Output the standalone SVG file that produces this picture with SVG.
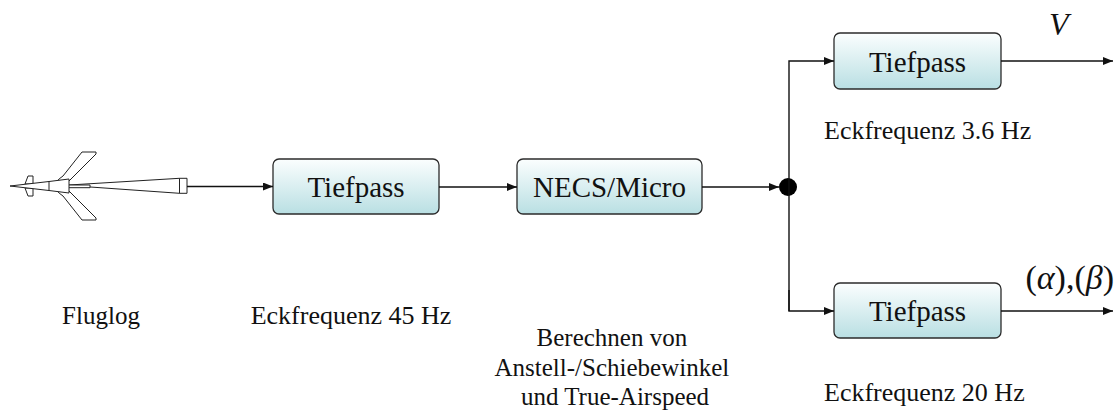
<svg xmlns="http://www.w3.org/2000/svg" width="1116" height="413" viewBox="0 0 1116 413">
  <style>
    .box { fill: url(#boxFill); stroke: #2b2b2b; stroke-width: 1.3; }
    .lbl { font-family: 'Liberation Serif', 'Times New Roman', Times, 'DejaVu Serif', serif; fill: #111; }
    .boxText { font-size: 29px; text-anchor: middle; }
    .note { font-size: 26px; }
    .wire { fill: none; stroke: #111; stroke-width: 1.4; }
    .craft { fill: #fff; stroke: #222; stroke-width: 1; stroke-linejoin: round; }
  </style>
  <defs>
    <linearGradient id="boxFill" x1="0" y1="0" x2="0" y2="1">
      <stop offset="0" stop-color="#fbfefe"/>
      <stop offset="1" stop-color="#b9dfe3"/>
    </linearGradient>
    <marker id="arrow" viewBox="0 0 10 8" refX="10" refY="4" markerWidth="10" markerHeight="8" markerUnits="userSpaceOnUse" orient="auto">
      <path d="M0,0 L10,4 L0,8 Z" fill="#111"/>
    </marker>
  </defs>

  <!-- flight log: missile outline -->
  <g id="fluglog">
    <!-- tail cone and probe rod -->
    <path class="craft" d="M69,185 L179.5,178.3 L179.5,193.3 L69,185.5 Z"/>
    <rect class="craft" x="179.5" y="178.3" width="7.5" height="15"/>
    <path class="craft" d="M69,185 H90 V187.7 H69"/>
    <!-- main wings -->
    <path class="craft" d="M57,181 Q60,178 63,176 L82,152 L96,152 L96,154 L69,181 Z"/>
    <path class="craft" d="M57,191 Q60,194 63,196 L82,220 L96,220 L96,218 L69,191 Z"/>
    <!-- canards -->
    <path class="craft" d="M25,184 L28,176 L33,176 L33,184 Z"/>
    <path class="craft" d="M25,188 L28,196 L33,196 L33,188 Z"/>
    <!-- nose and fuselage -->
    <path class="craft" d="M10,186 L49,181.5 L69,179 L69,193 L49,190.5 Z"/>
    <path class="craft" d="M49,181.5 V190.5"/>
    <text class="lbl" x="101" y="324" text-anchor="middle" font-size="25">Fluglog</text>
  </g>

  <g id="tiefpass1">
    <rect class="box" x="273" y="159" width="166" height="55" rx="6"/>
    <text class="lbl boxText" x="356" y="197">Tiefpass</text>
    <text class="lbl note" x="351" y="324" text-anchor="middle">Eckfrequenz 45 Hz</text>
  </g>

  <g id="necs">
    <rect class="box" x="517" y="159" width="185" height="55" rx="6"/>
    <text class="lbl boxText" x="609.5" y="197">NECS/Micro</text>
    <text class="lbl" text-anchor="middle" font-size="25">
      <tspan x="615" y="346">Berechnen von</tspan>
      <tspan x="615" y="376">Anstell-/Schiebewinkel</tspan>
      <tspan x="615" y="405">und True-Airspeed</tspan>
    </text>
  </g>

  <g id="tiefpass2">
    <rect class="box" x="834" y="33" width="167" height="56" rx="6"/>
    <text class="lbl boxText" x="917.5" y="72">Tiefpass</text>
    <text class="lbl note" x="824" y="139">Eckfrequenz 3.6 Hz</text>
  </g>

  <g id="tiefpass3">
    <rect class="box" x="834" y="283" width="167" height="55" rx="6"/>
    <text class="lbl boxText" x="917.5" y="321">Tiefpass</text>
    <text class="lbl note" x="824" y="401">Eckfrequenz 20 Hz</text>
  </g>

  <g id="branch">
    <circle cx="788" cy="187" r="9" fill="#000"/>
  </g>

  <!-- output symbols -->
  <g id="outputs" class="lbl">
    <text x="1049" y="35" font-size="32" font-style="italic">V</text>
    <text x="1114" y="289" font-size="34" text-anchor="end">(<tspan font-style="italic">α</tspan>),(<tspan font-style="italic">β</tspan>)</text>
  </g>

  <g id="connectors">
    <path class="wire" d="M187,186.5 H273" marker-end="url(#arrow)"/>
    <path class="wire" d="M439,187 H517" marker-end="url(#arrow)"/>
    <path class="wire" d="M702,187 H779" marker-end="url(#arrow)"/>
    <path class="wire" d="M789,311 V61 H834" marker-end="url(#arrow)"/>
    <path class="wire" d="M789,290 V311 H834" marker-end="url(#arrow)"/>
    <path class="wire" d="M1001,61 H1113" marker-end="url(#arrow)"/>
    <path class="wire" d="M1001,311 H1113" marker-end="url(#arrow)"/>
  </g>
</svg>
